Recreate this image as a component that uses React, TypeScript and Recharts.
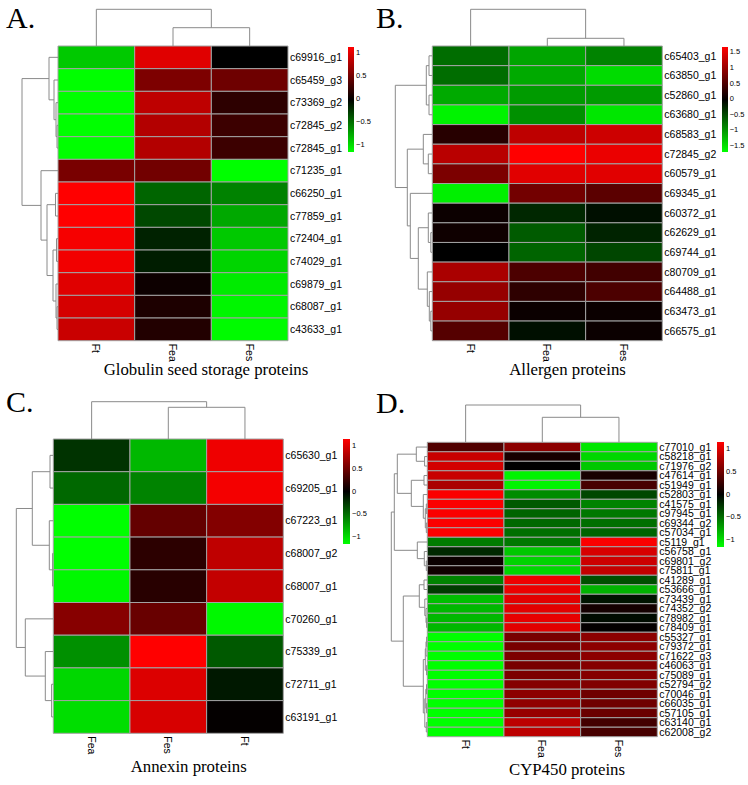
import React from 'react';
import { ComposedChart, XAxis, YAxis, Scatter, ReferenceArea } from 'recharts';

// ---- data ----
const COLS_A = ['Ft', 'Fea', 'Fes'];
const ROWS_A = ['c69916_g1', 'c65459_g3', 'c73369_g2', 'c72845_g2', 'c72845_g1', 'c71235_g1', 'c66250_g1',
  'c77859_g1', 'c72404_g1', 'c74029_g1', 'c69879_g1', 'c68087_g1', 'c43633_g1'];
const VALUES_A = [
  [-0.9, 1.0, 0.0], [-1.14, 0.56, 0.49], [-1.14, 0.85, 0.2], [-1.14, 0.8, 0.27], [-1.14, 0.8, 0.27],
  [0.54, 0.51, -1.14], [1.14, -0.45, -0.58], [1.14, -0.32, -0.75], [1.1, -0.15, -0.9], [1.08, -0.13, -0.95],
  [1.0, 0.06, -1.05], [0.95, 0.13, -1.1], [0.9, 0.15, -1.12],
];
// merges: [childA, childB, height(px)] ; leaves are row indexes, new nodes numbered after them
const ROW_TREE_A = [[3, 4, 1], [2, 13, 2], [1, 14, 4], [0, 15, 9], [8, 9, 1.5], [11, 12, 1], [10, 18, 2],
  [17, 19, 5], [6, 7, 2.5], [21, 20, 11], [5, 22, 17], [16, 23, 36]];
const COL_TREE_A = [[1, 2, 18.3], [0, 3, 36.7]];
const TICKS_A = [1, 0.5, 0, -0.5, -1];

const COLS_B = ['Ft', 'Fea', 'Fes'];
const ROWS_B = ['c65403_g1', 'c63850_g1', 'c52860_g1', 'c63680_g1', 'c68583_g1', 'c72845_g2', 'c60579_g1',
  'c69345_g1', 'c60372_g1', 'c62629_g1', 'c69744_g1', 'c80709_g1', 'c64488_g1', 'c63473_g1', 'c66575_g1'];
const VALUES_B = [
  [-0.72, -1.09, -0.86], [-0.72, -1.12, -1.45], [-1.12, -1.02, -1.02], [-1.6, -0.95, -1.52],
  [0.26, 1.25, 1.35], [1.22, 1.68, 1.55], [0.82, 1.48, 1.48], [-1.58, 0.76, 0.6],
  [0.08, -0.26, -0.1], [0.1, -0.6, -0.23], [0.0, -0.66, -0.46], [1.12, 0.5, 0.43],
  [0.99, 0.3, 0.5], [0.99, 0.07, 0.07], [0.56, -0.1, 0.07],
];
const ROW_TREE_B = [[0, 1, 3.3], [2, 3, 3.3], [15, 16, 6], [5, 6, 4], [4, 18, 9], [9, 10, 1.5], [8, 20, 4],
  [13, 14, 1.5], [12, 22, 3], [11, 23, 5], [21, 24, 14], [7, 25, 22], [19, 26, 25], [17, 27, 37]];
const COL_TREE_B = [[1, 2, 7.7], [0, 3, 36.7]];
const TICKS_B = [1.5, 1, 0.5, 0, -0.5, -1, -1.5];

const COLS_C = ['Fea', 'Fes', 'Ft'];
const ROWS_C = ['c65630_g1', 'c69205_g1', 'c67223_g1', 'c68007_g2', 'c68007_g1', 'c70260_g1', 'c75339_g1',
  'c72711_g1', 'c63191_g1'];
const VALUES_C = [
  [-0.23, -0.83, 1.08], [-0.47, -0.59, 1.1], [-1.15, 0.45, 0.59], [-1.15, 0.2, 0.86], [-1.12, 0.18, 0.88],
  [0.61, 0.47, -1.12], [-0.65, 1.15, -0.4], [-0.97, 0.99, -0.11], [-1.0, 0.97, 0.02],
];
const ROW_TREE_C = [[0, 1, 3.3], [3, 4, 0.7], [2, 10, 4], [9, 11, 21], [7, 8, 1.7], [6, 13, 8], [5, 14, 28],
  [12, 15, 37]];
const COL_TREE_C = [[1, 2, 31.7], [0, 3, 37.3]];
const TICKS_C = [1, 0.5, 0, -0.5, -1];

const COLS_D = ['Ft', 'Fea', 'Fes'];
const ROWS_D = ['c77010_g1', 'c58218_g1', 'c71976_g2', 'c47614_g1', 'c51949_g1', 'c52803_g1', 'c41575_g1',
  'c97945_g1', 'c69344_g2', 'c57034_g1', 'c5119_g1', 'c56758_g1', 'c69801_g2', 'c75811_g1', 'c41289_g1',
  'c53666_g1', 'c73439_g1', 'c74352_g2', 'c78982_g1', 'c78409_g1', 'c55327_g1', 'c79372_g1', 'c71622_g3',
  'c46063_g1', 'c75089_g1', 'c52794_g2', 'c70046_g1', 'c66035_g1', 'c57105_g1', 'c63140_g1', 'c62008_g2'];
const VALUES_D = [
  [0.36, 0.63, -1.04], [0.9, 0.11, -0.97], [0.95, 0.0, -0.9], [0.9, -1.1, 0.11], [0.77, -1.1, 0.32],
  [1.13, -0.63, -0.32], [1.13, -0.4, -0.59], [1.13, -0.45, -0.54], [1.13, -0.47, -0.5], [1.13, -0.5, -0.45],
  [-0.56, -0.54, 1.13], [-0.18, -0.9, 0.97], [0.05, -0.95, 0.92], [0.07, -0.97, 0.88],
  [-0.59, 1.08, -0.36], [-0.27, 1.06, -0.81], [-0.86, 1.02, -0.09], [-0.83, 1.02, 0.09], [-0.83, 1.04, -0.05],
  [-0.83, 1.02, 0.02],
  [-1.15, 0.54, 0.63], [-1.15, 0.54, 0.63], [-1.15, 0.56, 0.63], [-1.15, 0.54, 0.6], [-1.15, 0.56, 0.6],
  [-1.15, 0.6, 0.58], [-1.15, 0.63, 0.5], [-1.15, 0.65, 0.5], [-1.15, 0.68, 0.48], [-1.15, 0.85, 0.3],
  [-1.15, 0.85, 0.32],
];
const ROW_TREE_D = [[1, 2, 2.7], [0, 31, 11], [3, 4, 3.3], [6, 7, 1], [8, 9, 1], [34, 35, 2], [5, 36, 4],
  [33, 37, 16], [32, 38, 30], [12, 13, 1], [11, 40, 3], [10, 41, 10], [14, 15, 3.3], [18, 19, 0.7],
  [17, 44, 1.3], [16, 45, 2.5], [43, 46, 8], [20, 21, 0.7], [48, 22, 1.3], [23, 24, 0.7], [49, 50, 2],
  [25, 26, 0.8], [27, 28, 0.7], [52, 53, 1.5], [29, 30, 1], [54, 55, 2.5], [51, 56, 4], [47, 57, 24],
  [39, 42, 33], [59, 58, 36]];
const COL_TREE_D = [[1, 2, 25], [0, 3, 37.3]];
const TICKS_D = [1, 0.5, 0, -0.5, -1];

// ---- layout ----
const PANELS = [
  { letter: 'A.', caption: 'Globulin seed storage proteins', cols: COLS_A, rows: ROWS_A, values: VALUES_A,
    rowTree: ROW_TREE_A, colTree: COL_TREE_A, ticks: TICKS_A, max: 1.14,
    box: { l: 0, t: 0, w: 374, h: 400 }, heat: { l: 58, r: 288, t: 46, b: 340.7 },
    bar: { l: 347.7, t: 46.7, w: 6.3, h: 105 }, letterAt: { x: 6, base: 28.3 }, capAt: { cx: 206, base: 376 }, rowFont: 10.5 },
  { letter: 'B.', caption: 'Allergen proteins', cols: COLS_B, rows: ROWS_B, values: VALUES_B,
    rowTree: ROW_TREE_B, colTree: COL_TREE_B, ticks: TICKS_B, max: 1.68,
    box: { l: 374, t: 0, w: 374, h: 400 }, heat: { l: 432.3, r: 662.3, t: 46, b: 340.7 },
    bar: { l: 721.7, t: 46.7, w: 6, h: 105 }, letterAt: { x: 376, base: 28.3 }, capAt: { cx: 567.5, base: 376 }, rowFont: 10.5 },
  { letter: 'C.', caption: 'Annexin proteins', cols: COLS_C, rows: ROWS_C, values: VALUES_C,
    rowTree: ROW_TREE_C, colTree: COL_TREE_C, ticks: TICKS_C, max: 1.15,
    box: { l: 0, t: 400, w: 374, h: 385 }, heat: { l: 53.3, r: 283.3, t: 439, b: 733.3 },
    bar: { l: 343.3, t: 439, w: 6.7, h: 105 }, letterAt: { x: 6, base: 412 }, capAt: { cx: 188.7, base: 772.7 }, rowFont: 10.5 },
  { letter: 'D.', caption: 'CYP450 proteins', cols: COLS_D, rows: ROWS_D, values: VALUES_D,
    rowTree: ROW_TREE_D, colTree: COL_TREE_D, ticks: TICKS_D, max: 1.15,
    box: { l: 374, t: 400, w: 374, h: 385 }, heat: { l: 427.3, r: 657.3, t: 442.3, b: 736.7 },
    bar: { l: 717.3, t: 442, w: 6.7, h: 105 }, letterAt: { x: 376, base: 413 }, capAt: { cx: 567, base: 775.7 }, rowFont: 10.5 },
];

const SANS = '"Liberation Sans", Arial, sans-serif';
const SERIF = '"Liberation Serif", "Times New Roman", serif';
const TREE_COLOR = '#8a8a8a';
const CAPTION_SIZE = 16.8;

function heatColor(v: number, max: number) {
  const t = Math.max(-1, Math.min(1, v / max));
  const c = Math.round(Math.abs(t) * 255);
  return t >= 0 ? `rgb(${c},0,0)` : `rgb(0,${c},0)`;
}

// turn merges into polylines {p: position along leaves, h: height}
function treeSegments(merges: number[][], n: number, leafPos: (i: number) => number) {
  const pos: number[] = [];
  const hts: number[] = [];
  for (let i = 0; i < n; i++) { pos.push(leafPos(i)); hts.push(0); }
  return merges.map(([a, b, h]) => {
    const seg = [
      { p: pos[a], h: hts[a] }, { p: pos[a], h }, { p: pos[b], h }, { p: pos[b], h: hts[b] },
    ];
    pos.push((pos[a] + pos[b]) / 2);
    hts.push(h);
    return seg;
  });
}

const fmtTick = (v: number) => (v < 0 ? '\u2212' + Math.abs(v) : String(v));

function ColTick(props: any) {
  const { x, y, payload, labels } = props;
  return (
    <text x={x} y={y} transform={`rotate(90 ${x} ${y})`} textAnchor="start" dominantBaseline="central"
      fontSize={10.5} fontFamily={SANS} fill="#000">
      {labels[Math.floor(payload.value)]}
    </text>
  );
}

function Panel({ cfg }: { cfg: any }) {
  const { box, heat, rows, cols, values, max } = cfg;
  const n = rows.length;
  const colW = (heat.r - heat.l) / 3;
  const rowH = (heat.b - heat.t) / n;
  const rowRoot = cfg.rowTree[cfg.rowTree.length - 1][2];
  const colRoot = cfg.colTree[cfg.colTree.length - 1][2];
  const plotL = heat.l - rowRoot - 2;
  const plotT = heat.t - colRoot - 2;
  const xMin = -(heat.l - plotL) / colW;
  const yMax = n + (heat.t - plotT) / rowH;
  const yAxisW = 60;
  const xAxisH = 30;
  const margin = {
    left: plotL - box.l,
    top: plotT - box.t,
    right: box.l + box.w - heat.r - yAxisW,
    bottom: box.t + box.h - heat.b - xAxisH,
  };
  const rowTicks = rows.map((_: string, i: number) => n - i - 0.5);
  const rowSegs = treeSegments(cfg.rowTree, n, (i) => n - i - 0.5)
    .map((s) => s.map((q) => ({ x: -q.h / colW, y: q.p })));
  const colSegs = treeSegments(cfg.colTree, 3, (i) => i + 0.5)
    .map((s) => s.map((q) => ({ x: q.p, y: n + q.h / rowH })));

  return (
    <div style={{ position: 'absolute', left: box.l, top: box.t, width: box.w, height: box.h }}>
      <ComposedChart width={box.w} height={box.h} margin={margin}>
        <XAxis type="number" dataKey="x" domain={[xMin, 3]} allowDataOverflow ticks={[0.5, 1.5, 2.5]}
          interval={0} axisLine={false} tickLine={false} tickSize={0} tickMargin={3} height={xAxisH}
          tick={(p: any) => <ColTick {...p} labels={cols} />} />
        <YAxis type="number" dataKey="y" orientation="right" domain={[0, yMax]} allowDataOverflow
          ticks={rowTicks} interval={0} axisLine={false} tickLine={false} tickSize={0} tickMargin={2}
          width={yAxisW} tickFormatter={(v: number) => rows[Math.round(n - 0.5 - v)]}
          tick={{ fontSize: cfg.rowFont, fill: '#000', fontFamily: SANS }} />
        {values.map((row: number[], i: number) => row.map((v, c) => (
          <ReferenceArea key={`c${i}-${c}`} x1={c} x2={c + 1} y1={n - i - 1} y2={n - i}
            fill={heatColor(v, max)} fillOpacity={1} stroke="#a3a3a3" strokeWidth={1} ifOverflow="visible" />
        )))}
        {[...rowSegs, ...colSegs].map((seg, k) => (
          <Scatter key={`t${k}`} data={seg} line={{ stroke: TREE_COLOR, strokeWidth: 1 }} lineType="joint"
            shape={() => <g />} isAnimationActive={false} legendType="none" />
        ))}
      </ComposedChart>
    </div>
  );
}

function ColorBar({ cfg }: { cfg: any }) {
  const { bar, ticks, max } = cfg;
  return (
    <>
      <div style={{
        position: 'absolute', left: bar.l, top: bar.t, width: bar.w, height: bar.h,
        background: 'linear-gradient(to bottom, rgb(255,0,0), rgb(0,0,0), rgb(0,255,0))',
      }} />
      {ticks.map((v: number) => (
        <div key={v} style={{
          position: 'absolute', left: bar.l + bar.w + 2, top: bar.t + ((max - v) / (2 * max)) * bar.h - 5,
          height: 10, lineHeight: '10px', fontSize: 7.5, fontFamily: SANS, color: '#000', whiteSpace: 'nowrap',
        }}>{fmtTick(v)}</div>
      ))}
    </>
  );
}

export default function App() {
  return (
    <div style={{ position: 'absolute', left: 0, top: 0, width: 748, height: 785, background: '#fff', overflow: 'hidden' }}>
      {PANELS.map((cfg) => (
        <React.Fragment key={cfg.letter}>
          <Panel cfg={cfg} />
          <ColorBar cfg={cfg} />
          <div style={{
            position: 'absolute', left: cfg.letterAt.x, top: cfg.letterAt.base - 25, fontSize: 30,
            lineHeight: '30px', fontFamily: SERIF, color: '#000',
          }}>{cfg.letter}</div>
          <div style={{
            position: 'absolute', left: cfg.capAt.cx - 170, width: 340, textAlign: 'center',
            top: cfg.capAt.base - 14.1, fontSize: CAPTION_SIZE, lineHeight: `${CAPTION_SIZE}px`,
            fontFamily: SERIF, color: '#000', whiteSpace: 'nowrap',
          }}>{cfg.caption}</div>
        </React.Fragment>
      ))}
    </div>
  );
}
